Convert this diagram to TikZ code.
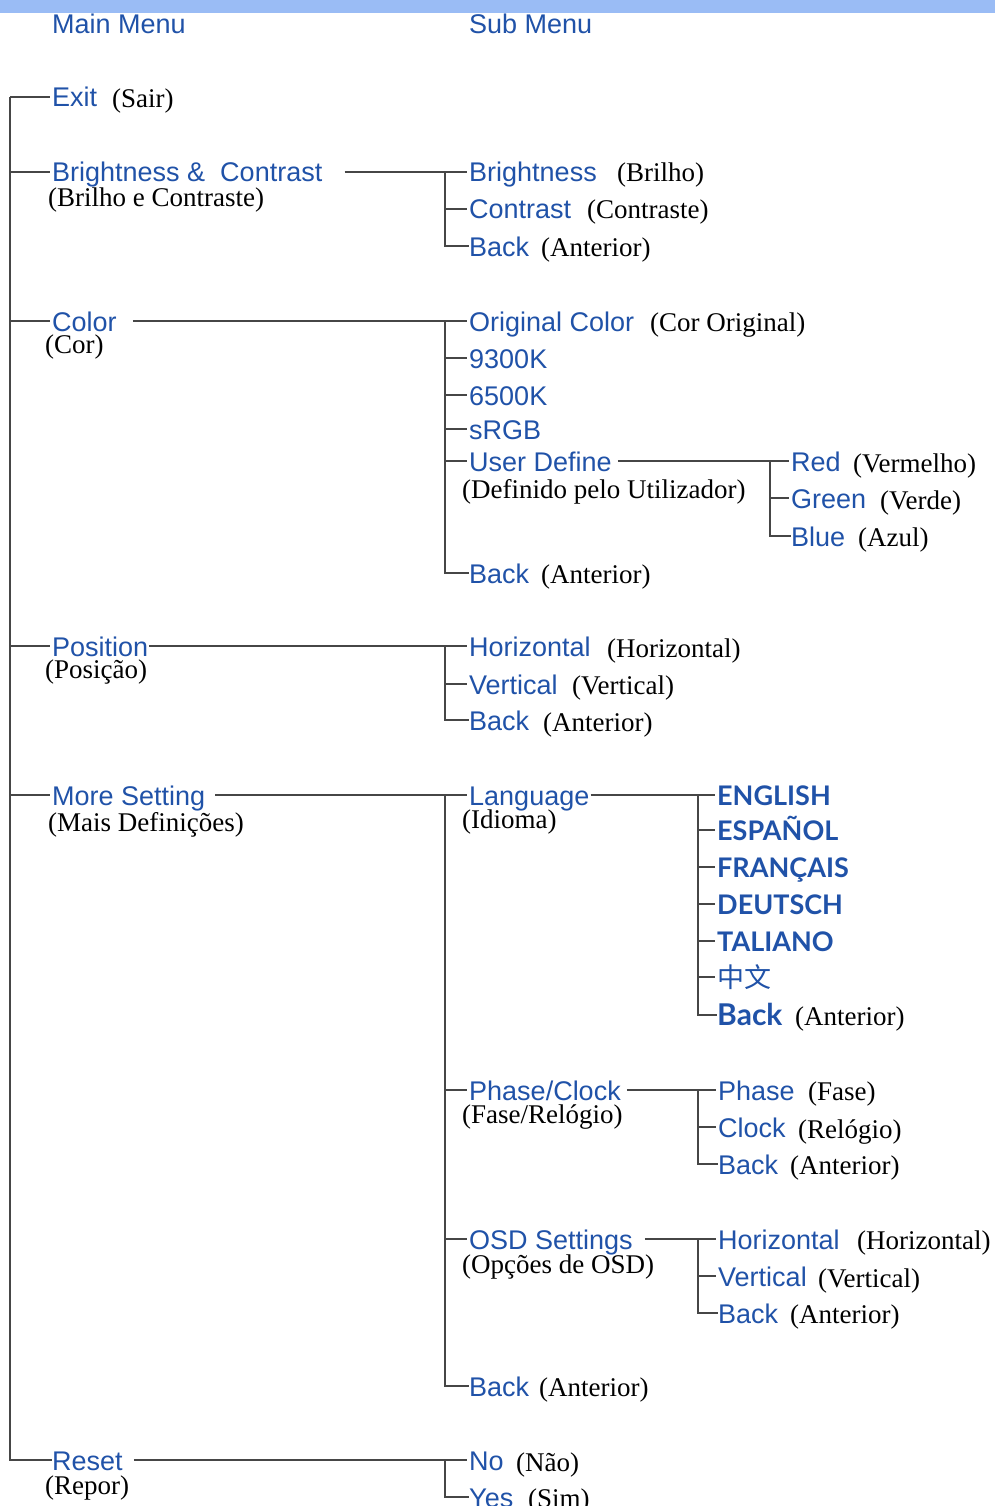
\documentclass[tikz,border=0pt]{standalone}
\usepackage{fontspec}
\setmainfont{Liberation Serif}
\newfontfamily\arialf{Liberation Sans}
\newfontfamily\gillf{Lato}
\newfontfamily\cjkf{Noto Sans CJK SC}
\definecolor{menublue}{RGB}{32,82,168}
\definecolor{barblue}{RGB}{154,188,245}
\definecolor{linegray}{RGB}{70,70,70}
\tikzset{
  bl/.style={anchor=west,inner sep=0pt,text height=20pt,text depth=0pt,text=menublue,font=\arialf\fontsize{27}{30}\selectfont},
  lg/.style={anchor=west,inner sep=0pt,text height=20pt,text depth=0pt,text=menublue,font=\gillf\bfseries\fontsize{27}{30}\selectfont},
  gl/.style={anchor=base west,inner sep=0pt,font=\fontsize{27}{30}\selectfont},
  ln/.style={draw=linegray,line width=1.6pt},
  br/.style={ln,shorten >=2pt}
}
\begin{document}
\begin{tikzpicture}[x=1pt,y=-1pt]
\useasboundingbox (0,0) rectangle (995,1506);
\fill[barblue] (0,0) rectangle (995,13);
% headers
\node[bl] (hmain) at (52,24) {Main Menu};
\node[bl] (hsub) at (469,24) {Sub Menu};
% main menu
\node[bl] (exit) at (52,97) {Exit};
\node[gl] (exitg) at (112,108) {(Sair)};
\node[bl] (bc) at (52,172) {Brightness \&\ \ Contrast};
\node[gl] (bcg) at (48,207) {(Brilho e Contraste)};
\node[bl] (color) at (52,321) {Color};
\node[gl] (colorg) at (45,353) {(Cor)};
\node[bl] (pos) at (52,646) {Position};
\node[gl] (posg) at (45,678) {(Posição)};
\node[bl] (more) at (52,795) {More Setting};
\node[gl] (moreg) at (48,831) {(Mais Definições)};
\node[bl] (reset) at (52,1460) {Reset};
\node[gl] (resetg) at (45,1494) {(Repor)};
% brightness & contrast
\node[bl] (bri) at (469,172) {Brightness};
\node[gl] (brig) at (617,182) {(Brilho)};
\node[bl] (con) at (469,209) {Contrast};
\node[gl] (cong) at (587,219) {(Contraste)};
\node[bl] (bback) at (469,246) {Back};
\node[gl] (bbackg) at (541,256) {(Anterior)};
% color
\node[bl] (oc) at (469,321) {Original Color};
\node[gl] (ocg) at (650,331) {(Cor Original)};
\node[bl] (k93) at (469,358) {9300K};
\node[bl] (k65) at (469,395) {6500K};
\node[bl] (srgb) at (469,429) {sRGB};
\node[bl] (ud) at (469,461) {User Define};
\node[gl] (udg) at (462,498) {(Definido pelo Utilizador)};
\node[bl] (cback) at (469,573) {Back};
\node[gl] (cbackg) at (541,583) {(Anterior)};
\node[bl] (red) at (791,461) {Red};
\node[gl] (redg) at (853,472) {(Vermelho)};
\node[bl] (green) at (791,498) {Green};
\node[gl] (greeng) at (880,509) {(Verde)};
\node[bl] (blue) at (791,536) {Blue};
\node[gl] (blueg) at (858,546) {(Azul)};
% position
\node[bl] (hor) at (469,646) {Horizontal};
\node[gl] (horg) at (607,657) {(Horizontal)};
\node[bl] (ver) at (469,684) {Vertical};
\node[gl] (verg) at (572,694) {(Vertical)};
\node[bl] (pback) at (469,720) {Back};
\node[gl] (pbackg) at (543,731) {(Anterior)};
% more setting
\node[bl] (lang) at (469,795) {Language};
\node[gl] (langg) at (462,828) {(Idioma)};
\node[bl] (pc) at (469,1090) {Phase/Clock};
\node[gl] (pcg) at (462,1123) {(Fase/Relógio)};
\node[bl] (osd) at (469,1239) {OSD Settings};
\node[gl] (osdg) at (462,1273) {(Opções de OSD)};
\node[bl] (mback) at (469,1386) {Back};
\node[gl] (mbackg) at (539,1396) {(Anterior)};
% languages
\node[lg] (en) at (717,795) {ENGLISH};
\node[lg] (es) at (717,830) {ESPAÑOL};
\node[lg] (fr) at (717,867) {FRANÇAIS};
\node[lg] (de) at (717,904) {DEUTSCH};
\node[lg] (it) at (717,941) {TALIANO};
\node[lg,font=\cjkf\fontsize{27}{30}\selectfont] (zh) at (717,977) {中文};
\node[lg,font=\gillf\bfseries\fontsize{30}{32}\selectfont] (lback) at (717,1015) {Back};
\node[gl] (lbackg) at (795,1025) {(Anterior)};
% phase/clock
\node[bl] (ph) at (718,1090) {Phase};
\node[gl] (phg) at (808,1100) {(Fase)};
\node[bl] (clk) at (718,1127) {Clock};
\node[gl] (clkg) at (798,1138) {(Relógio)};
\node[bl] (phback) at (718,1164) {Back};
\node[gl] (phbackg) at (790,1174) {(Anterior)};
% osd
\node[bl] (oh) at (718,1239) {Horizontal};
\node[gl] (ohg) at (857,1249) {(Horizontal)};
\node[bl] (ov) at (718,1276) {Vertical};
\node[gl] (ovg) at (818,1287) {(Vertical)};
\node[bl] (oback) at (718,1313) {Back};
\node[gl] (obackg) at (790,1323) {(Anterior)};
% reset
\node[bl] (no) at (469,1460) {No};
\node[gl] (nog) at (516,1471) {(Não)};
\node[bl] (yes) at (469,1497) {Yes};
\node[gl] (yesg) at (528,1507) {(Sim)};

% main trunk
\draw[ln] (10,0 |- exit.west) |- (reset.west);
\foreach \n in {exit,bc,color,pos,more,reset}
  \draw[br] (10,0 |- \n.west) -- (\n.west);
% level 2 connectors
\draw[br] ([xshift=22pt]bc.east) -- (bri.west);
\draw[ln] (445,0 |- bri.west) |- (bback.west);
\foreach \n in {con,bback} \draw[br] (445,0 |- \n.west) -- (\n.west);

\draw[br] ([xshift=16pt]color.east) -- (oc.west);
\draw[ln] (445,0 |- oc.west) |- (cback.west);
\foreach \n in {k93,k65,srgb,ud,cback} \draw[br] (445,0 |- \n.west) -- (\n.west);

\draw[br] ([xshift=1pt]pos.east) -- (hor.west);
\draw[ln] (445,0 |- hor.west) |- (pback.west);
\foreach \n in {ver,pback} \draw[br] (445,0 |- \n.west) -- (\n.west);

\draw[br] ([xshift=10pt]more.east) -- (lang.west);
\draw[ln] (445,0 |- lang.west) |- (mback.west);
\foreach \n in {pc,osd,mback} \draw[br] (445,0 |- \n.west) -- (\n.west);

\draw[br] ([xshift=11pt]reset.east) -- (no.west);
\draw[ln] (445,0 |- no.west) |- (yes.west);
\draw[br] (445,0 |- yes.west) -- (yes.west);
% level 3 connectors
\draw[br] ([xshift=6pt]ud.east) -- (red.west);
\draw[ln] (770,0 |- red.west) |- (blue.west);
\foreach \n in {green,blue} \draw[br] (770,0 |- \n.west) -- (\n.west);

\draw[br] ([xshift=1pt]lang.east) -- (en.west);
\draw[ln] (698,0 |- en.west) |- (lback.west);
\foreach \n in {es,fr,de,it,zh,lback} \draw[br] (698,0 |- \n.west) -- (\n.west);

\draw[br] ([xshift=6pt]pc.east) -- (ph.west);
\draw[ln] (698,0 |- ph.west) |- (phback.west);
\foreach \n in {clk,phback} \draw[br] (698,0 |- \n.west) -- (\n.west);

\draw[br] ([xshift=12pt]osd.east) -- (oh.west);
\draw[ln] (698,0 |- oh.west) |- (oback.west);
\foreach \n in {ov,oback} \draw[br] (698,0 |- \n.west) -- (\n.west);
\end{tikzpicture}
\end{document}
